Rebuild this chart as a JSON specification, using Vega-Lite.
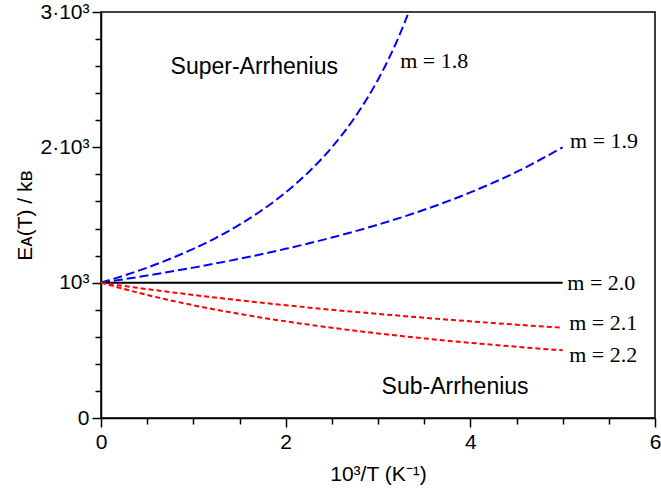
{
  "$schema": "https://vega.github.io/schema/vega-lite/v6.json",
  "width": 554,
  "height": 406,
  "autosize": "none",
  "padding": {"left": 101, "top": 12, "right": 6, "bottom": 73},
  "background": "white",
  "config": {
    "view": {"stroke": "black", "strokeWidth": 1.5},
    "axis": {
      "domainColor": "black", "domainWidth": 1.5, "tickColor": "black", "tickWidth": 1.5,
      "labelFont": "Liberation Sans", "labelFontSize": 21, "labelColor": "black",
      "titleFont": "Liberation Sans", "titleFontSize": 21, "titleFontWeight": "normal", "titleColor": "black",
      "grid": false, "labelFlush": false, "labelBound": false
    }
  },
  "datasets": {
    "curves": [
      {"m": "1.8", "x": 0, "y": 1000}, {"m": "1.8", "x": 0.25, "y": 1052.6}, {"m": "1.8", "x": 0.5, "y": 1111.1},
      {"m": "1.8", "x": 0.75, "y": 1176.5}, {"m": "1.8", "x": 1, "y": 1250}, {"m": "1.8", "x": 1.25, "y": 1333.3},
      {"m": "1.8", "x": 1.5, "y": 1428.6}, {"m": "1.8", "x": 1.75, "y": 1538.5}, {"m": "1.8", "x": 2, "y": 1666.7},
      {"m": "1.8", "x": 2.25, "y": 1818.2}, {"m": "1.8", "x": 2.5, "y": 2000}, {"m": "1.8", "x": 2.75, "y": 2222.2},
      {"m": "1.8", "x": 3, "y": 2500}, {"m": "1.8", "x": 3.1, "y": 2631.6}, {"m": "1.8", "x": 3.2, "y": 2777.8},
      {"m": "1.8", "x": 3.3, "y": 2941.2}, {"m": "1.8", "x": 3.333, "y": 3000},
      {"m": "1.9", "x": 0, "y": 1000}, {"m": "1.9", "x": 0.5, "y": 1052.6}, {"m": "1.9", "x": 1, "y": 1111.1},
      {"m": "1.9", "x": 1.5, "y": 1176.5}, {"m": "1.9", "x": 2, "y": 1250}, {"m": "1.9", "x": 2.5, "y": 1333.3},
      {"m": "1.9", "x": 3, "y": 1428.6}, {"m": "1.9", "x": 3.5, "y": 1538.5}, {"m": "1.9", "x": 4, "y": 1666.7},
      {"m": "1.9", "x": 4.5, "y": 1818.2}, {"m": "1.9", "x": 5, "y": 2000},
      {"m": "2.0", "x": 0, "y": 1000}, {"m": "2.0", "x": 5, "y": 1000},
      {"m": "2.1", "x": 0, "y": 1000}, {"m": "2.1", "x": 0.5, "y": 952.4}, {"m": "2.1", "x": 1, "y": 909.1},
      {"m": "2.1", "x": 1.5, "y": 869.6}, {"m": "2.1", "x": 2, "y": 833.3}, {"m": "2.1", "x": 2.5, "y": 800},
      {"m": "2.1", "x": 3, "y": 769.2}, {"m": "2.1", "x": 3.5, "y": 740.7}, {"m": "2.1", "x": 4, "y": 714.3},
      {"m": "2.1", "x": 4.5, "y": 689.7}, {"m": "2.1", "x": 5, "y": 666.7},
      {"m": "2.2", "x": 0, "y": 1000}, {"m": "2.2", "x": 0.5, "y": 909.1}, {"m": "2.2", "x": 1, "y": 833.3},
      {"m": "2.2", "x": 1.5, "y": 769.2}, {"m": "2.2", "x": 2, "y": 714.3}, {"m": "2.2", "x": 2.5, "y": 666.7},
      {"m": "2.2", "x": 3, "y": 625}, {"m": "2.2", "x": 3.5, "y": 588.2}, {"m": "2.2", "x": 4, "y": 555.6},
      {"m": "2.2", "x": 4.5, "y": 526.3}, {"m": "2.2", "x": 5, "y": 500}
    ],
    "mlabels": [
      {"t": "m = 1.8", "x": 3.24, "y": 2638},
      {"t": "m = 1.9", "x": 5.08, "y": 2047},
      {"t": "m = 2.0", "x": 5.05, "y": 998},
      {"t": "m = 2.1", "x": 5.07, "y": 702},
      {"t": "m = 2.2", "x": 5.07, "y": 466}
    ],
    "regions": [
      {"t": "Super-Arrhenius", "x": 1.66, "y": 2594},
      {"t": "Sub-Arrhenius", "x": 3.835, "y": 229}
    ]
  },
  "encoding": {
    "x": {
      "field": "x", "type": "quantitative",
      "scale": {"domain": [0, 6], "nice": false},
      "axis": {
        "values": [0, 0.5, 1, 1.5, 2, 2.5, 3, 3.5, 4, 4.5, 5, 5.5, 6],
        "labelExpr": "datum.value % 2 === 0 ? toString(datum.value) : ''",
        "labelOverlap": false,
        "tickSize": {"condition": {"test": "datum.value % 2 === 0", "value": 9}, "value": 6},
        "labelPadding": 4,
        "title": "10³/T (K⁻¹)", "titlePadding": 11
      }
    },
    "y": {
      "field": "y", "type": "quantitative",
      "scale": {"domain": [0, 3000], "nice": false},
      "axis": {
        "values": [0, 200, 400, 600, 800, 1000, 1200, 1400, 1600, 1800, 2000, 2200, 2400, 2600, 2800, 3000],
        "labelExpr": "datum.value == 0 ? '0' : datum.value == 1000 ? '10³' : datum.value == 2000 ? '2·10³' : datum.value == 3000 ? '3·10³' : ''",
        "labelOverlap": false,
        "tickSize": {"condition": {"test": "datum.value % 1000 === 0", "value": 9}, "value": 6},
        "labelPadding": 3,
        "title": "Eᴀ(T) / kʙ", "titlePadding": 4
      }
    }
  },
  "layer": [
    {
      "data": {"name": "curves"},
      "mark": {"type": "line", "strokeWidth": 2, "interpolate": "monotone", "clip": true},
      "encoding": {
        "color": {
          "field": "m", "type": "nominal", "legend": null,
          "scale": {"domain": ["1.8", "1.9", "2.0", "2.1", "2.2"], "range": ["#0000ff", "#0000ff", "#000000", "#ff0000", "#ff0000"]}
        },
        "strokeDash": {
          "field": "m", "type": "nominal", "legend": null,
          "scale": {"domain": ["1.8", "1.9", "2.0", "2.1", "2.2"], "range": [[9, 4], [9, 4], [1, 0], [5, 3], [5, 3]]}
        }
      }
    },
    {
      "data": {"name": "mlabels"},
      "mark": {"type": "text", "font": "Liberation Serif", "fontSize": 22, "align": "left", "baseline": "middle", "color": "black"},
      "encoding": {
        "text": {"field": "t"}
      }
    },
    {
      "data": {"name": "regions"},
      "mark": {"type": "text", "font": "Liberation Sans", "fontSize": 23, "align": "center", "baseline": "middle", "color": "black"},
      "encoding": {
        "text": {"field": "t"}
      }
    }
  ]
}
